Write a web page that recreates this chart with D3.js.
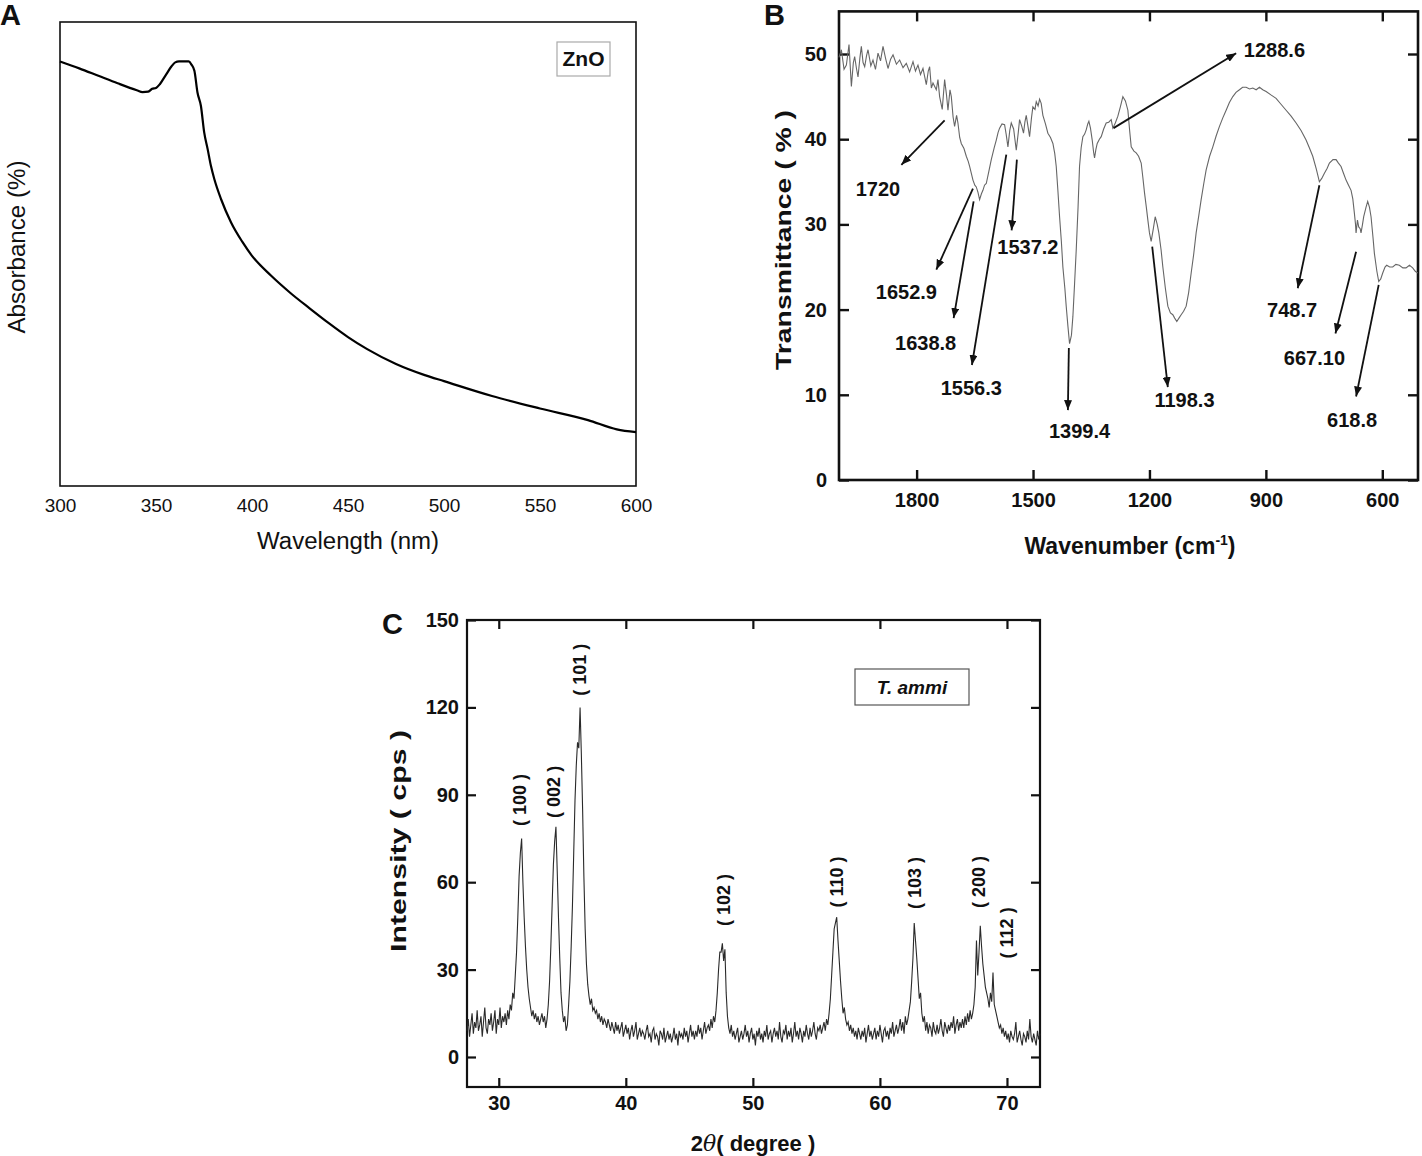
<!DOCTYPE html>
<html><head><meta charset="utf-8">
<script src="https://cdn.jsdelivr.net/npm/d3@7"></script>
<style>
body{margin:0;background:#fff}
text{font-family:"Liberation Sans",Arial,Helvetica,sans-serif;fill:#111}
</style>
</head><body>
<svg id="fig" width="1422" height="1156"></svg>
<script>
// ---------------- Panel A: UV-Vis ----------------
const uvWavelength = [300,310,320,330,340,343,346,348,350,352,355,358,360,362,367,368.5,370,371.6,373.4,375.1,376.9,378.6,380.4,383.9,389.1,395,400,410,420,430,440,450,460,475,490,500,525,550,575,590,600];
const uvAbsorbance = [91.5,90.0,88.4,86.8,85.3,84.9,85.0,85.6,85.8,86.6,88.5,90.4,91.3,91.5,91.5,90.8,89.5,84.8,81.9,76.2,72.6,69.0,66.1,61.8,56.8,52.6,49.6,45.3,41.6,38.3,35.1,32.1,29.5,26.3,23.9,22.6,19.4,16.7,14.2,12.2,11.6];
const uvTicks = [300,350,400,450,500,550,600];

// ---------------- Panel B: FTIR ----------------
const irSpectrum = [[2000,49.6],[1993.9,50.5],[1987,48.2],[1981.0,48.7],[1974.2,51.1],[1968.1,46.2],[1963,49.0],[1959.6,49.7],[1955,48.3],[1951.0,47.3],[1946,49.6],[1942.4,50.9],[1938,49.0],[1933.8,48.5],[1929,49.8],[1925.2,50.5],[1918,48.6],[1912.4,49.3],[1906,48.2],[1899.5,50.1],[1893,49.2],[1886.6,50.9],[1880,49.5],[1873.7,48.3],[1867,49.4],[1860.8,49.9],[1852,48.8],[1843.7,49.3],[1835,48.4],[1826.5,48.9],[1818,47.9],[1809.3,49.1],[1803,48.0],[1796.5,48.7],[1790,47.6],[1783.6,48.3],[1775.0,46.4],[1770,48.0],[1766.4,48.5],[1762,46.0],[1757.8,46.6],[1749.3,45.8],[1745,47.0],[1740.7,45.0],[1734,43.5],[1727.8,47.0],[1723,45.2],[1719.2,43.4],[1714,45.8],[1710.6,45.0],[1706,42.6],[1702.1,41.5],[1697,42.8],[1693.5,41.9],[1689,40.2],[1684.9,39.5],[1678,38.9],[1672.0,38.0],[1667,37.4],[1663.4,36.8],[1659,36.0],[1654.8,35.2],[1650,34.6],[1646.3,34.4],[1642,33.8],[1637.7,32.9],[1633,33.6],[1629.1,34.0],[1625,34.6],[1620.5,34.8],[1614,36.2],[1607.6,37.6],[1600,39.0],[1594.7,39.9],[1590,40.8],[1586.2,41.3],[1580,41.8],[1573.3,41.7],[1569,40.5],[1564.7,39.1],[1560,41.0],[1556.1,41.9],[1550,41.2],[1543.2,38.7],[1538,40.8],[1534.7,42.3],[1529,41.5],[1524.5,40.7],[1521,42.0],[1517.5,42.8],[1513,41.5],[1508.9,40.3],[1504,42.5],[1500.4,43.8],[1495,43.5],[1491.7,44.4],[1487,43.9],[1483.1,44.7],[1479,44.2],[1474.6,42.8],[1468,41.8],[1461.7,40.7],[1455,40.2],[1448.8,39.5],[1444,38.3],[1440.2,36.8],[1436,34.0],[1431.6,30.9],[1427,28.0],[1423.1,25.0],[1418,22.5],[1414.5,20.4],[1410,18.0],[1405.9,16.0],[1401,17.0],[1397.3,19.2],[1393,23.0],[1388.7,27.0],[1384,32.0],[1380.2,36.8],[1376,39.0],[1371.6,40.3],[1367,40.6],[1363.0,41.1],[1359,41.8],[1356.1,42.1],[1352,41.3],[1347.5,39.9],[1344,38.5],[1341.5,37.8],[1338,38.8],[1334.6,39.5],[1329,40.0],[1324.3,40.3],[1318,41.2],[1311.5,41.9],[1305,42.0],[1298.6,42.3],[1294.3,41.3],[1288,41.9],[1281.4,42.7],[1275,43.8],[1268.5,45.0],[1262,44.5],[1255.6,43.4],[1251,41.0],[1247.0,39.1],[1240,38.6],[1234.2,38.4],[1228,38.0],[1221.3,37.2],[1217,35.5],[1212.7,33.7],[1208,32.0],[1204.1,30.5],[1200,29.0],[1195.6,28.0],[1190,29.5],[1185.2,30.9],[1180,30.0],[1175.8,29.0],[1170,27.0],[1165.5,25.0],[1159,22.5],[1152.6,20.4],[1146,19.6],[1139.8,19.4],[1135,19.0],[1129.5,18.6],[1124,19.0],[1118.3,19.4],[1112,19.8],[1105.4,20.4],[1099,22.0],[1092.5,24.3],[1086,26.5],[1079.7,29.0],[1073,31.0],[1066.8,32.9],[1060,34.8],[1053.9,36.4],[1045,38.0],[1036.7,39.1],[1028,40.4],[1019.6,41.5],[1011,42.5],[1002.4,43.4],[994,44.3],[985.2,45.0],[977,45.5],[968.1,45.8],[960,46.1],[950.9,46.1],[942,45.9],[933.7,46.0],[925,45.8],[916.6,46.1],[908,45.8],[899.4,45.6],[887,45.2],[873.7,44.8],[861,44.1],[847.9,43.4],[835,42.7],[822.1,41.9],[809,41.0],[796.4,39.9],[788,39.0],[779.2,38.0],[770,36.5],[762.1,35.0],[756,35.4],[749.2,36.0],[742,36.6],[736.3,37.2],[727,37.6],[719.1,37.6],[713,37.2],[706.3,36.8],[700,36.0],[693.4,35.2],[687,34.6],[680.5,34.0],[676,33.0],[671.9,31.3],[669,30.0],[667.6,29.0],[664,30.5],[660.8,29.7],[657,29.5],[654.8,29.0],[651,30.0],[647.9,30.9],[642,32.0],[637.6,32.7],[633,32.0],[629.0,30.9],[624,28.5],[620.4,26.6],[614,24.5],[609.2,23.3],[604,23.6],[598.9,24.3],[593,25.0],[588.7,25.2],[581,25.0],[573.1,25.0],[565,25.3],[556.1,25.2],[547,24.9],[538.9,24.9],[530,25.2],[521.7,24.9],[515,24.5],[508.8,24.3]];
const irXTicks = [1800,1500,1200,900,600];
const irYTicks = [0,10,20,30,40,50];
const irLabels = ["1720","1652.9","1638.8","1556.3","1537.2","1399.4","1288.6","1198.3","748.7","667.10","618.8"];
const irArrowFrom = [[1727.8,42.2],[1654.9,34.2],[1653.1,32.7],[1568.9,38.2],[1541.6,37.6],[1407.7,15.5],[1292.6,41.3],[1192.9,27.4],[762.1,34.6],[667.5,26.8],[609.3,22.9]];
const irArrowTo = [[1839.3,37.0],[1749.2,24.7],[1704.6,19.0],[1657.5,13.5],[1555.2,29.3],[1410.2,8.2],[976.6,50.1],[1152.7,10.9],[817.9,22.5],[720.8,17.2],[667.5,9.8]];
const irLabelAt = [[1899.6,34.2],[1826.4,22.1],[1776.7,16.1],[1659.0,10.8],[1513.3,27.4],[1380.1,5.7],[877.9,50.5],[1109.7,9.4],[832.4,20.0],[774.9,14.3],[677.8,7.0]];

// ---------------- Panel C: XRD ----------------
const xrdStart = 27.5, xrdStep = 0.1;
const xrdIntensity = [
 9,13,7,11,15,8,12,10,16,9,
 11,14,7,12,17,10,8,13,11,15,
 9,12,16,8,13,11,17,10,14,12,
 15,11,16,13,18,16,22,20,28,36,
 48,62,70,75,60,48,38,30,24,20,
 17,14,16,13,15,12,14,11,13,15,
 12,14,10,13,18,26,38,52,66,74,
 79,64,48,34,22,16,12,14,9,11,
 18,26,38,52,70,88,100,108,106,120,
 104,85,62,44,32,25,21,18,20,16,
 17,15,16,13,15,12,14,11,13,12,
 10,13,11,9,12,10,8,12,9,11,
 8,10,12,7,9,11,8,10,6,9,
 11,7,9,12,6,8,10,7,9,8,
 6,9,11,7,8,5,9,10,6,8,
 7,4,9,8,6,10,5,7,9,6,
 8,5,7,10,6,8,4,9,7,8,
 6,10,7,9,5,8,11,7,9,6,
 9,7,11,8,10,6,9,12,8,10,
 11,9,13,10,14,12,16,22,30,36,
 36,39,33,37,22,14,10,8,11,7,
 9,6,8,10,5,7,9,6,8,11,
 7,9,5,8,10,6,8,4,9,7,
 10,6,8,5,9,7,11,6,8,9,
 5,8,10,7,9,6,12,7,5,9,
 8,11,6,9,7,10,5,8,12,7,
 9,6,10,8,5,9,7,11,8,6,
 10,7,9,12,8,6,10,9,11,8,
 10,12,9,13,11,15,20,28,36,44,
 46,48,40,33,26,20,15,17,13,11,
 12,9,11,8,10,7,9,6,10,8,
 6,9,7,10,5,8,11,7,9,6,
 8,10,6,9,7,11,8,5,9,10,
 7,9,6,10,8,12,7,9,11,8,
 10,13,9,12,8,14,11,13,16,19,
 26,34,46,40,34,27,20,22,15,12,
 14,9,12,8,11,10,7,12,9,8,
 11,8,10,13,9,7,12,10,8,11,
 9,12,10,14,8,11,13,9,12,10,
 13,10,14,11,15,12,16,13,15,18,
 24,40,28,36,45,38,32,28,24,22,
 20,17,22,19,29,18,16,14,12,10,
 11,8,10,7,9,6,8,5,9,7,
 6,8,12,5,7,9,6,4,8,7,
 5,9,6,13,7,5,8,6,4,9,
 6,8];
const xrdXTicks = [30,40,50,60,70];
const xrdYTicks = [0,30,60,90,120,150];
const xrdPlanes = ["( 100 )","( 002 )","( 101 )","( 102 )","( 110 )","( 103 )","( 200 )","( 112 )"];
const xrdPlaneAngle = [31.65,34.33,36.38,47.72,56.61,62.76,67.80,70.0];
const xrdPlaneLabelY = [88.2,91.0,132.9,53.9,60.1,59.7,60.1,42.6];

// =================================================
const svg = d3.select("#fig");
const defs = svg.append("defs");
defs.append("marker").attr("id","arrow").attr("viewBox","0 0 10 8")
  .attr("refX",10).attr("refY",4).attr("markerWidth",10).attr("markerHeight",8)
  .attr("markerUnits","userSpaceOnUse").attr("orient","auto")
  .append("path").attr("d","M0,0L10,4L0,8Z").attr("fill","#111");

function panelLetter(t,x,y){
  svg.append("text").attr("x",x).attr("y",y).attr("font-size",29).attr("font-weight","bold").text(t);
}
const intFmt = d3.format("d");

// ---------- Panel A ----------
(function(){
  const x = d3.scaleLinear().domain([300,600]).range([60,636]);
  const y = d3.scaleLinear().domain([0,100]).range([486,22]);
  const g = svg.append("g");
  g.append("rect").attr("x",60).attr("y",22).attr("width",576).attr("height",464)
    .attr("fill","none").attr("stroke","#111").attr("stroke-width",1.6);
  const ax = g.append("g").attr("transform","translate(0,486)")
    .call(d3.axisBottom(x).tickValues(uvTicks).tickFormat(intFmt).tickSize(0).tickPadding(13));
  ax.select(".domain").remove();
  ax.selectAll("text").attr("font-size",19).attr("font-family","Liberation Sans, Arial").attr("fill","#222");
  const pts = uvWavelength.map((w,i)=>[w,uvAbsorbance[i]]);
  g.append("path").datum(pts).attr("fill","none").attr("stroke","#000").attr("stroke-width",2.2)
    .attr("d",d3.line().x(d=>x(d[0])).y(d=>y(d[1])).curve(d3.curveMonotoneX));
  g.append("text").attr("x",348).attr("y",549).attr("text-anchor","middle").attr("font-size",23)
    .attr("textLength",182).attr("lengthAdjust","spacingAndGlyphs").attr("fill","#222").text("Wavelength (nm)");
  g.append("text").attr("transform","translate(25,247) rotate(-90)").attr("text-anchor","middle").attr("font-size",23)
    .attr("textLength",173).attr("lengthAdjust","spacingAndGlyphs").attr("fill","#222").text("Absorbance (%)");
  g.append("rect").attr("x",557).attr("y",42).attr("width",53).attr("height",34)
    .attr("fill","#fff").attr("stroke","#aaa").attr("stroke-width",1.2);
  g.append("text").attr("x",583.5).attr("y",59).attr("dy","0.35em").attr("text-anchor","middle")
    .attr("font-size",21).attr("font-weight","bold").text("ZnO");
  panelLetter("A",0,25);
})();

// ---------- Panel B ----------
(function(){
  const L=839,R=1418,T=11.4,B=480;
  const x = d3.scaleLinear().domain([2000,508]).range([L,R]);
  const y = d3.scaleLinear().domain([0,55]).range([B,T]);
  const g = svg.append("g");
  const tk = 10;
  const styleAxis = a => { a.select(".domain").remove(); a.selectAll("line").attr("stroke","#111").attr("stroke-width",2.4);
    a.selectAll("text").attr("font-size",20).attr("font-weight","bold").attr("font-family","Liberation Sans, Arial").attr("fill","#111"); };
  styleAxis(g.append("g").attr("transform",`translate(0,${B})`).call(d3.axisBottom(x).tickValues(irXTicks).tickFormat(intFmt).tickSize(-tk).tickPadding(13)));
  styleAxis(g.append("g").attr("transform",`translate(0,${T})`).call(d3.axisTop(x).tickValues(irXTicks).tickSize(-tk).tickFormat("")));
  styleAxis(g.append("g").attr("transform",`translate(${L},0)`).call(d3.axisLeft(y).tickValues(irYTicks).tickFormat(intFmt).tickSize(-tk).tickPadding(12)));
  styleAxis(g.append("g").attr("transform",`translate(${R},0)`).call(d3.axisRight(y).tickValues(irYTicks).tickSize(-tk).tickFormat("")));
  g.append("rect").attr("x",L).attr("y",T).attr("width",R-L).attr("height",B-T)
    .attr("fill","none").attr("stroke","#111").attr("stroke-width",2.6);
  g.append("path").datum(irSpectrum).attr("fill","none").attr("stroke","#666").attr("stroke-width",1.1)
    .attr("d",d3.line().x(d=>x(d[0])).y(d=>y(d[1])));
  irLabels.forEach((lab,i)=>{
    g.append("line").attr("x1",x(irArrowFrom[i][0])).attr("y1",y(irArrowFrom[i][1]))
      .attr("x2",x(irArrowTo[i][0])).attr("y2",y(irArrowTo[i][1]))
      .attr("stroke","#111").attr("stroke-width",1.8).attr("marker-end","url(#arrow)");
    g.append("text").attr("x",x(irLabelAt[i][0])).attr("y",y(irLabelAt[i][1])).attr("dy","0.35em")
      .attr("text-anchor","middle").attr("font-size",20).attr("font-weight","bold").text(lab);
  });
  const xl = g.append("text").attr("x",1130).attr("y",554).attr("text-anchor","middle").attr("font-size",23).attr("font-weight","bold");
  xl.append("tspan").text("Wavenumber (cm");
  xl.append("tspan").attr("font-size",14).attr("dy",-9).text("-1");
  xl.append("tspan").attr("dy",9).text(")");
  g.append("text").attr("transform","translate(791,240) rotate(-90)").attr("text-anchor","middle").attr("font-size",22)
    .attr("font-weight","bold").attr("textLength",260).attr("lengthAdjust","spacingAndGlyphs").text("Transmittance ( % )");
  panelLetter("B",764,25);
})();

// ---------- Panel C ----------
(function(){
  const L=467,R=1040,T=620,B=1087;
  const x = d3.scaleLinear().domain([27.5,72.6]).range([L,R]);
  const y = d3.scaleLinear().domain([-10.3,150]).range([B,T]);
  const g = svg.append("g");
  const tk = 9;
  const styleAxis = a => { a.select(".domain").remove(); a.selectAll("line").attr("stroke","#111").attr("stroke-width",2.2);
    a.selectAll("text").attr("font-size",20).attr("font-weight","bold").attr("font-family","Liberation Sans, Arial").attr("fill","#111"); };
  styleAxis(g.append("g").attr("transform",`translate(0,${B})`).call(d3.axisBottom(x).tickValues(xrdXTicks).tickFormat(intFmt).tickSize(-tk).tickPadding(9)));
  styleAxis(g.append("g").attr("transform",`translate(0,${T})`).call(d3.axisTop(x).tickValues(xrdXTicks).tickSize(-tk).tickFormat("")));
  styleAxis(g.append("g").attr("transform",`translate(${L},0)`).call(d3.axisLeft(y).tickValues(xrdYTicks).tickFormat(intFmt).tickSize(-tk).tickPadding(8)));
  styleAxis(g.append("g").attr("transform",`translate(${R},0)`).call(d3.axisRight(y).tickValues(xrdYTicks).tickSize(-tk).tickFormat("")));
  g.append("rect").attr("x",L).attr("y",T).attr("width",R-L).attr("height",B-T)
    .attr("fill","none").attr("stroke","#111").attr("stroke-width",2.2);
  const pts = xrdIntensity.map((v,i)=>[xrdStart+i*xrdStep,v]);
  g.append("path").datum(pts).attr("fill","none").attr("stroke","#2a2a2a").attr("stroke-width",1.1)
    .attr("d",d3.line().x(d=>x(d[0])).y(d=>y(d[1])));
  xrdPlanes.forEach((p,i)=>{
    g.append("text").attr("transform",`translate(${x(xrdPlaneAngle[i])},${y(xrdPlaneLabelY[i])}) rotate(-90)`)
      .attr("dy","0.35em").attr("text-anchor","middle").attr("font-size",18).attr("font-weight","bold").text(p);
  });
  g.append("rect").attr("x",855).attr("y",669).attr("width",114).attr("height",36)
    .attr("fill","#fff").attr("stroke","#555").attr("stroke-width",1.2);
  g.append("text").attr("x",912).attr("y",687).attr("dy","0.35em").attr("text-anchor","middle")
    .attr("font-size",19).attr("font-weight","bold").attr("font-style","italic").text("T. ammi");
  const xl = g.append("text").attr("x",753).attr("y",1151).attr("text-anchor","middle").attr("font-size",22).attr("font-weight","bold");
  xl.append("tspan").text("2");
  xl.append("tspan").attr("font-style","italic").attr("font-weight","normal").attr("font-family","DejaVu Serif, serif").text("θ");
  xl.append("tspan").text("( degree )");
  g.append("text").attr("transform","translate(406,841) rotate(-90)").attr("text-anchor","middle").attr("font-size",22)
    .attr("font-weight","bold").attr("textLength",222).attr("lengthAdjust","spacingAndGlyphs").text("Intensity ( cps )");
  panelLetter("C",382,634);
})();
</script>
</body></html>
